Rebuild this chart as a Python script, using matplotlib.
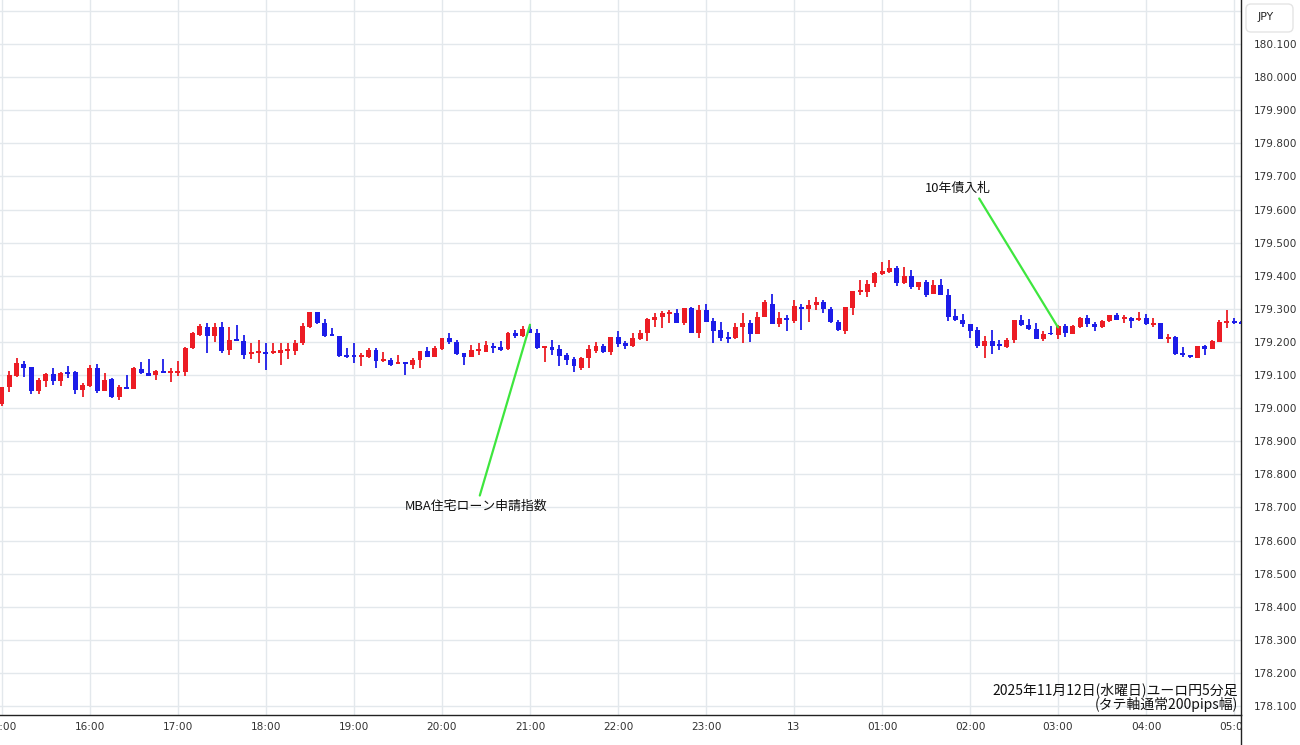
import matplotlib
matplotlib.use('Agg')
import matplotlib.pyplot as plt
from matplotlib.transforms import Bbox, TransformedBbox
from matplotlib.lines import Line2D
from matplotlib.patches import FancyBboxPatch
import numpy as np

plt.rcParams['font.family'] = ['DejaVu Sans', 'Noto Sans CJK JP']

# EUR/JPY 5 min candles, 2025-11-12 15:00 -> 13th 05:05
opens = [
    179.013, 179.063, 179.097, 179.133, 179.123, 179.053, 179.083, 179.103, 179.083, 179.110,
    179.110, 179.055, 179.067, 179.120, 179.053, 179.087, 179.035, 179.065, 179.057, 179.117,
    179.107, 179.100, 179.112, 179.108, 179.108, 179.108, 179.181, 179.221, 179.246, 179.218,
    179.246, 179.176, 179.207, 179.204, 179.165, 179.167, 179.169, 179.167, 179.166, 179.175,
    179.174, 179.196, 179.246, 179.291, 179.258, 179.223, 179.218, 179.160, 179.158, 179.156,
    179.156, 179.176, 179.143, 179.146, 179.135, 179.138, 179.131, 179.146, 179.174, 179.156,
    179.178, 179.211, 179.201, 179.166, 179.156, 179.175, 179.171, 179.188, 179.184, 179.178,
    179.226, 179.218, 179.238, 179.228, 179.183, 179.186, 179.178, 179.161, 179.148, 179.121,
    179.151, 179.174, 179.188, 179.169, 179.214, 179.196, 179.188, 179.208, 179.226, 179.266,
    179.276, 179.286, 179.288, 179.258, 179.304, 179.228, 179.298, 179.264, 179.236, 179.213,
    179.211, 179.246, 179.256, 179.224, 179.274, 179.316, 179.254, 179.271, 179.264, 179.306,
    179.299, 179.311, 179.321, 179.301, 179.261, 179.234, 179.304, 179.353, 179.351, 179.377,
    179.405, 179.412, 179.422, 179.377, 179.399, 179.365, 179.382, 179.344, 179.372, 179.342,
    179.277, 179.267, 179.255, 179.235, 179.187, 179.202, 179.191, 179.185, 179.205, 179.265,
    179.252, 179.239, 179.209, 179.227, 179.221, 179.248, 179.224, 179.246, 179.271, 179.254,
    179.244, 179.264, 179.281, 179.270, 179.271, 179.267, 179.271, 179.253, 179.256, 179.210,
    179.214, 179.166, 179.160, 179.151, 179.188, 179.178, 179.201, 179.260, 179.263, 179.259,
]
highs = [
    179.065, 179.112, 179.153, 179.143, 179.123, 179.090, 179.107, 179.120, 179.110, 179.127,
    179.113, 179.077, 179.130, 179.133, 179.107, 179.090, 179.070, 179.100, 179.123, 179.140,
    179.147, 179.115, 179.147, 179.120, 179.141, 179.186, 179.231, 179.254, 179.258, 179.256,
    179.261, 179.244, 179.251, 179.221, 179.196, 179.206, 179.196, 179.196, 179.196, 179.196,
    179.206, 179.256, 179.291, 179.291, 179.268, 179.241, 179.218, 179.181, 179.196, 179.166,
    179.181, 179.181, 179.171, 179.151, 179.161, 179.138, 179.151, 179.174, 179.186, 179.188,
    179.211, 179.226, 179.206, 179.166, 179.191, 179.196, 179.204, 179.196, 179.204, 179.231,
    179.236, 179.248, 179.253, 179.238, 179.186, 179.206, 179.191, 179.168, 179.156, 179.156,
    179.191, 179.201, 179.194, 179.216, 179.234, 179.204, 179.228, 179.236, 179.271, 179.288,
    179.294, 179.298, 179.301, 179.304, 179.306, 179.311, 179.314, 179.271, 179.261, 179.231,
    179.256, 179.286, 179.266, 179.291, 179.326, 179.346, 179.291, 179.281, 179.326, 179.316,
    179.328, 179.336, 179.326, 179.306, 179.266, 179.306, 179.354, 179.386, 179.386, 179.412,
    179.442, 179.449, 179.429, 179.427, 179.417, 179.382, 179.387, 179.387, 179.389, 179.359,
    179.299, 179.285, 179.255, 179.245, 179.219, 179.235, 179.205, 179.212, 179.265, 179.282,
    179.269, 179.257, 179.232, 179.249, 179.251, 179.254, 179.251, 179.274, 179.281, 179.261,
    179.266, 179.281, 179.288, 179.281, 179.274, 179.291, 179.284, 179.271, 179.256, 179.224,
    179.218, 179.186, 179.161, 179.188, 179.191, 179.206, 179.266, 179.296, 179.271, 179.262,
]
lows = [
    179.007, 179.050, 179.093, 179.095, 179.043, 179.043, 179.063, 179.070, 179.067, 179.090,
    179.043, 179.033, 179.063, 179.047, 179.053, 179.030, 179.025, 179.057, 179.057, 179.103,
    179.097, 179.085, 179.105, 179.080, 179.096, 179.096, 179.178, 179.218, 179.168, 179.201,
    179.168, 179.161, 179.204, 179.148, 179.148, 179.136, 179.114, 179.164, 179.131, 179.148,
    179.161, 179.191, 179.241, 179.254, 179.214, 179.218, 179.156, 179.151, 179.136, 179.126,
    179.151, 179.121, 179.139, 179.126, 179.133, 179.101, 179.118, 179.121, 179.154, 179.154,
    179.176, 179.193, 179.161, 179.131, 179.154, 179.161, 179.169, 179.166, 179.174, 179.176,
    179.211, 179.214, 179.226, 179.178, 179.138, 179.161, 179.128, 179.131, 179.108, 179.116,
    179.121, 179.168, 179.168, 179.161, 179.184, 179.178, 179.186, 179.206, 179.204, 179.244,
    179.241, 179.258, 179.258, 179.251, 179.228, 179.211, 179.261, 179.198, 179.204, 179.198,
    179.208, 179.196, 179.201, 179.224, 179.274, 179.254, 179.244, 179.234, 179.258, 179.236,
    179.261, 179.296, 179.288, 179.256, 179.234, 179.224, 179.281, 179.341, 179.336, 179.367,
    179.402, 179.409, 179.369, 179.375, 179.359, 179.357, 179.337, 179.344, 179.341, 179.262,
    179.262, 179.245, 179.212, 179.182, 179.152, 179.165, 179.175, 179.182, 179.197, 179.249,
    179.237, 179.209, 179.202, 179.222, 179.208, 179.214, 179.224, 179.241, 179.244, 179.234,
    179.241, 179.261, 179.266, 179.258, 179.241, 179.264, 179.251, 179.246, 179.208, 179.196,
    179.161, 179.154, 179.151, 179.151, 179.161, 179.178, 179.201, 179.241, 179.254, 179.255,
]
closes = [
    179.063, 179.100, 179.135, 179.120, 179.053, 179.085, 179.103, 179.083, 179.107, 179.105,
    179.055, 179.070, 179.120, 179.053, 179.085, 179.035, 179.065, 179.057, 179.120, 179.107,
    179.097, 179.113, 179.107, 179.110, 179.113, 179.181, 179.226, 179.248, 179.218, 179.246,
    179.174, 179.206, 179.204, 179.161, 179.168, 179.170, 179.166, 179.170, 179.176, 179.178,
    179.198, 179.248, 179.291, 179.258, 179.218, 179.220, 179.158, 179.157, 179.155, 179.161,
    179.176, 179.141, 179.146, 179.131, 179.138, 179.135, 179.146, 179.174, 179.156, 179.181,
    179.211, 179.199, 179.164, 179.156, 179.176, 179.178, 179.191, 179.184, 179.176, 179.226,
    179.218, 179.238, 179.228, 179.181, 179.186, 179.176, 179.158, 179.146, 179.126, 179.151,
    179.178, 179.188, 179.170, 179.216, 179.194, 179.188, 179.211, 179.228, 179.268, 179.276,
    179.286, 179.289, 179.258, 179.304, 179.228, 179.298, 179.261, 179.234, 179.211, 179.210,
    179.246, 179.256, 179.224, 179.276, 179.321, 179.254, 179.271, 179.267, 179.308, 179.299,
    179.311, 179.321, 179.301, 179.261, 179.236, 179.306, 179.354, 179.356, 179.376, 179.407,
    179.415, 179.422, 179.377, 179.399, 179.365, 179.382, 179.342, 179.372, 179.341, 179.275,
    179.265, 179.255, 179.232, 179.187, 179.202, 179.189, 179.188, 179.205, 179.265, 179.252,
    179.239, 179.209, 179.225, 179.224, 179.248, 179.226, 179.248, 179.271, 179.254, 179.246,
    179.264, 179.281, 179.266, 179.273, 179.264, 179.270, 179.254, 179.256, 179.208, 179.213,
    179.164, 179.163, 179.157, 179.188, 179.178, 179.204, 179.261, 179.263, 179.260, 179.257,
]

hour_labels = ['15:00', '16:00', '17:00', '18:00', '19:00', '20:00', '21:00', '22:00',
               '23:00', '13', '01:00', '02:00', '03:00', '04:00', '05:00']
price_ticks = [178.1 + 0.1 * k for k in range(22)]

# (label, candle index, price the line points to)
events = [('MBA住宅ローン申請指数', 72, 179.252),
          ('10年債入札', 144, 179.244)]

title_lines = ['2025年11月12日(水曜日)ユーロ円5分足', '(タテ軸通常200pips幅)']

RED = '#ec1c24'
BLUE = '#1c1ce8'
GRID = '#e3e8ec'
GREEN = '#3ee63e'

W, H, DPI = 1300, 745, 100
fig = plt.figure(figsize=(W / DPI, H / DPI), dpi=DPI)
fig.patch.set_facecolor('white')
right = 1241 / W
bottom = 30 / H
ax = fig.add_axes([0, bottom, right, 1 - bottom])

o, hi, lo, c = map(np.array, (opens, highs, lows, closes))
idx = np.arange(len(o))
cols = np.where(c >= o, RED, BLUE)
body_lo = np.minimum(o, c)
body_h = np.abs(c - o)
small = body_h < 0.006
body_lo = np.where(small, (o + c) / 2 - 0.003, body_lo)
body_h = np.where(small, 0.006, body_h)

ax.vlines(idx, lo, hi, colors=cols, lw=1.3, zorder=2)
ax.bar(idx, body_h, bottom=body_lo, width=0.68, color=cols, lw=0, zorder=3)

ax.set_xlim(-0.27, 168.95)
ax.set_ylim(178.073, 180.233)

ax.set_xticks(np.arange(len(hour_labels)) * 12)
ax.set_xticklabels(hour_labels)
ax.set_yticks(price_ticks)
# top grid line has no label (covered by the currency box in the reference)
ax.set_yticklabels(['%.3f' % p for p in price_ticks[:-1]] + [''])
ax.yaxis.tick_right()
ax.tick_params(axis='both', length=0, labelsize=7.6, labelcolor='#333333')
ax.tick_params(axis='x', pad=5)
ax.tick_params(axis='y', pad=9)
ax.grid(True, color=GRID, lw=1)
ax.set_axisbelow(True)

for s in ['top', 'left']:
    ax.spines[s].set_visible(False)
for s in ['right', 'bottom']:
    ax.spines[s].set_color('#222222')
    ax.spines[s].set_linewidth(1)

# clip time labels at the price-axis border
clip = TransformedBbox(Bbox([[0, 0], [right, 1]]), fig.transFigure)
for lbl in ax.get_xticklabels():
    lbl.set_clip_box(clip)
    lbl.set_clip_on(True)

fig.add_artist(Line2D([right, right], [0, bottom], color='#222222', lw=1,
                      transform=fig.transFigure))

# event annotations
text_pos = [(64.6, 178.704), (130.4, 179.665)]
rel = [(0.52, 1.0), (0.78, 0.0)]
for (name, i, p), (tx, ty), rp in zip(events, text_pos, rel):
    ax.annotate(name, xy=(i, p), xytext=(tx, ty), ha='center', va='center',
                fontsize=9.3, color='#111111',
                family=['Noto Sans CJK JP', 'DejaVu Sans'],
                arrowprops=dict(arrowstyle='-', color=GREEN, lw=1.6,
                                shrinkA=1, shrinkB=0, relpos=rp),
                zorder=5)

ax.text(0.9975, (745 - 690 - 30) / 715, title_lines[0], transform=ax.transAxes,
        ha='right', va='center', fontsize=10, color='#111111',
        family=['Noto Sans CJK JP', 'DejaVu Sans'])
ax.text(0.9975, (745 - 705 - 30) / 715, title_lines[1], transform=ax.transAxes,
        ha='right', va='center', fontsize=10, color='#111111',
        family=['Noto Sans CJK JP', 'DejaVu Sans'])

# currency box, top right
box = FancyBboxPatch((12.46, 7.13), 0.47, 0.28,
                     boxstyle='round,pad=0,rounding_size=0.05',
                     transform=fig.dpi_scale_trans, fc='white', ec='#e4e4e4',
                     lw=1, zorder=9)
fig.add_artist(box)
fig.text(1266 / W, 1 - 17 / H, 'JPY', ha='center', va='center', fontsize=7.8,
         color='#222222', zorder=10)

fig.savefig('out.png', dpi=DPI, facecolor='white')
